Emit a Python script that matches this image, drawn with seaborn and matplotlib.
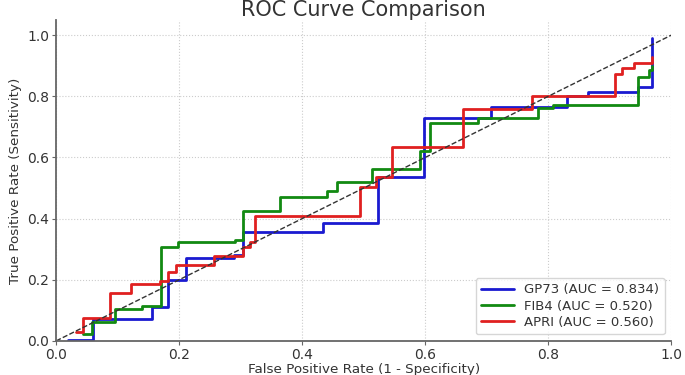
import matplotlib
matplotlib.use("Agg")
import matplotlib.pyplot as plt
import seaborn as sns
import pandas as pd

# ROC step vertices (steps-post: horizontal then vertical)
gp73_fpr = [0.020, 0.060, 0.156, 0.182, 0.211, 0.289, 0.304, 0.433, 0.524, 0.598, 0.707, 0.831, 0.865, 0.946, 0.969]
gp73_tpr = [0.003, 0.072, 0.111, 0.199, 0.271, 0.281, 0.356, 0.386, 0.536, 0.729, 0.765, 0.801, 0.814, 0.830, 0.990]

fib4_fpr = [0.044, 0.059, 0.096, 0.140, 0.171, 0.198, 0.291, 0.304, 0.364, 0.441, 0.457, 0.514, 0.592, 0.608, 0.685, 0.784, 0.808, 0.946, 0.963, 0.968]
fib4_tpr = [0.023, 0.062, 0.105, 0.114, 0.307, 0.324, 0.330, 0.425, 0.471, 0.490, 0.520, 0.562, 0.621, 0.712, 0.729, 0.761, 0.771, 0.863, 0.886, 0.900]

apri_fpr = [0.033, 0.044, 0.088, 0.122, 0.169, 0.182, 0.195, 0.257, 0.304, 0.315, 0.324, 0.494, 0.520, 0.546, 0.662, 0.774, 0.909, 0.920, 0.940, 0.969]
apri_tpr = [0.029, 0.075, 0.157, 0.186, 0.196, 0.225, 0.248, 0.278, 0.307, 0.324, 0.408, 0.503, 0.536, 0.634, 0.758, 0.801, 0.873, 0.892, 0.908, 0.928]

series_names = ["GP73", "FIB4", "APRI"]
auc_values = [0.834, 0.520, 0.560]
colors = ["#1a1ad0", "#128a12", "#e02020"]

diag = [0.0, 1.0]

sns.set_style("white")
plt.rcParams["font.family"] = ["DejaVu Sans"]

fig = plt.figure(figsize=(6.85, 3.75), dpi=100)
ax = fig.add_axes([0.082, 0.091, 0.898, 0.856])

data = [(gp73_fpr, gp73_tpr), (fib4_fpr, fib4_tpr), (apri_fpr, apri_tpr)]
for (fpr, tpr), name, auc, col in zip(data, series_names, auc_values, colors):
    df = pd.DataFrame({"fpr": fpr, "tpr": tpr})
    sns.lineplot(data=df, x="fpr", y="tpr", ax=ax, sort=False, estimator=None,
                 drawstyle="steps-post", color=col, linewidth=2,
                 label=f"{name} (AUC = {auc:.3f})")

sns.lineplot(x=diag, y=diag, ax=ax, color="#333333", linestyle="--", linewidth=1, legend=False)

ax.set_xlim(0, 1.0)
ax.set_ylim(0, 1.05)
ax.set_xticks([0.0, 0.2, 0.4, 0.6, 0.8, 1.0])
ax.set_yticks([0.0, 0.2, 0.4, 0.6, 0.8, 1.0])
ax.grid(True, linestyle=":", color="#cccccc", linewidth=0.8)
for s in ["top", "right"]:
    ax.spines[s].set_visible(False)
for s in ["left", "bottom"]:
    ax.spines[s].set_color("#666666")
    ax.spines[s].set_linewidth(1.3)
ax.tick_params(axis="both", which="both", length=3, pad=2, color="#666666", labelsize=10,
               labelcolor="#333333", bottom=True, left=True)

ax.set_xlabel("False Positive Rate (1 - Specificity)", fontsize=9.7, color="#333333", labelpad=1)
ax.set_ylabel("True Positive Rate (Sensitivity)", fontsize=9.7, color="#333333", labelpad=4)
fig.text(0.53, 1 - 10 / 375, "ROC Curve Comparison", fontsize=15, color="#333333",
         ha="center", va="center")

leg = ax.legend(loc="lower right", fontsize=9.5, frameon=True, handlelength=2.5,
                borderpad=0.4, labelspacing=0.25)
leg.get_frame().set_edgecolor("#cccccc")
for t in leg.get_texts():
    t.set_color("#333333")

fig.savefig("out.png", dpi=100)
